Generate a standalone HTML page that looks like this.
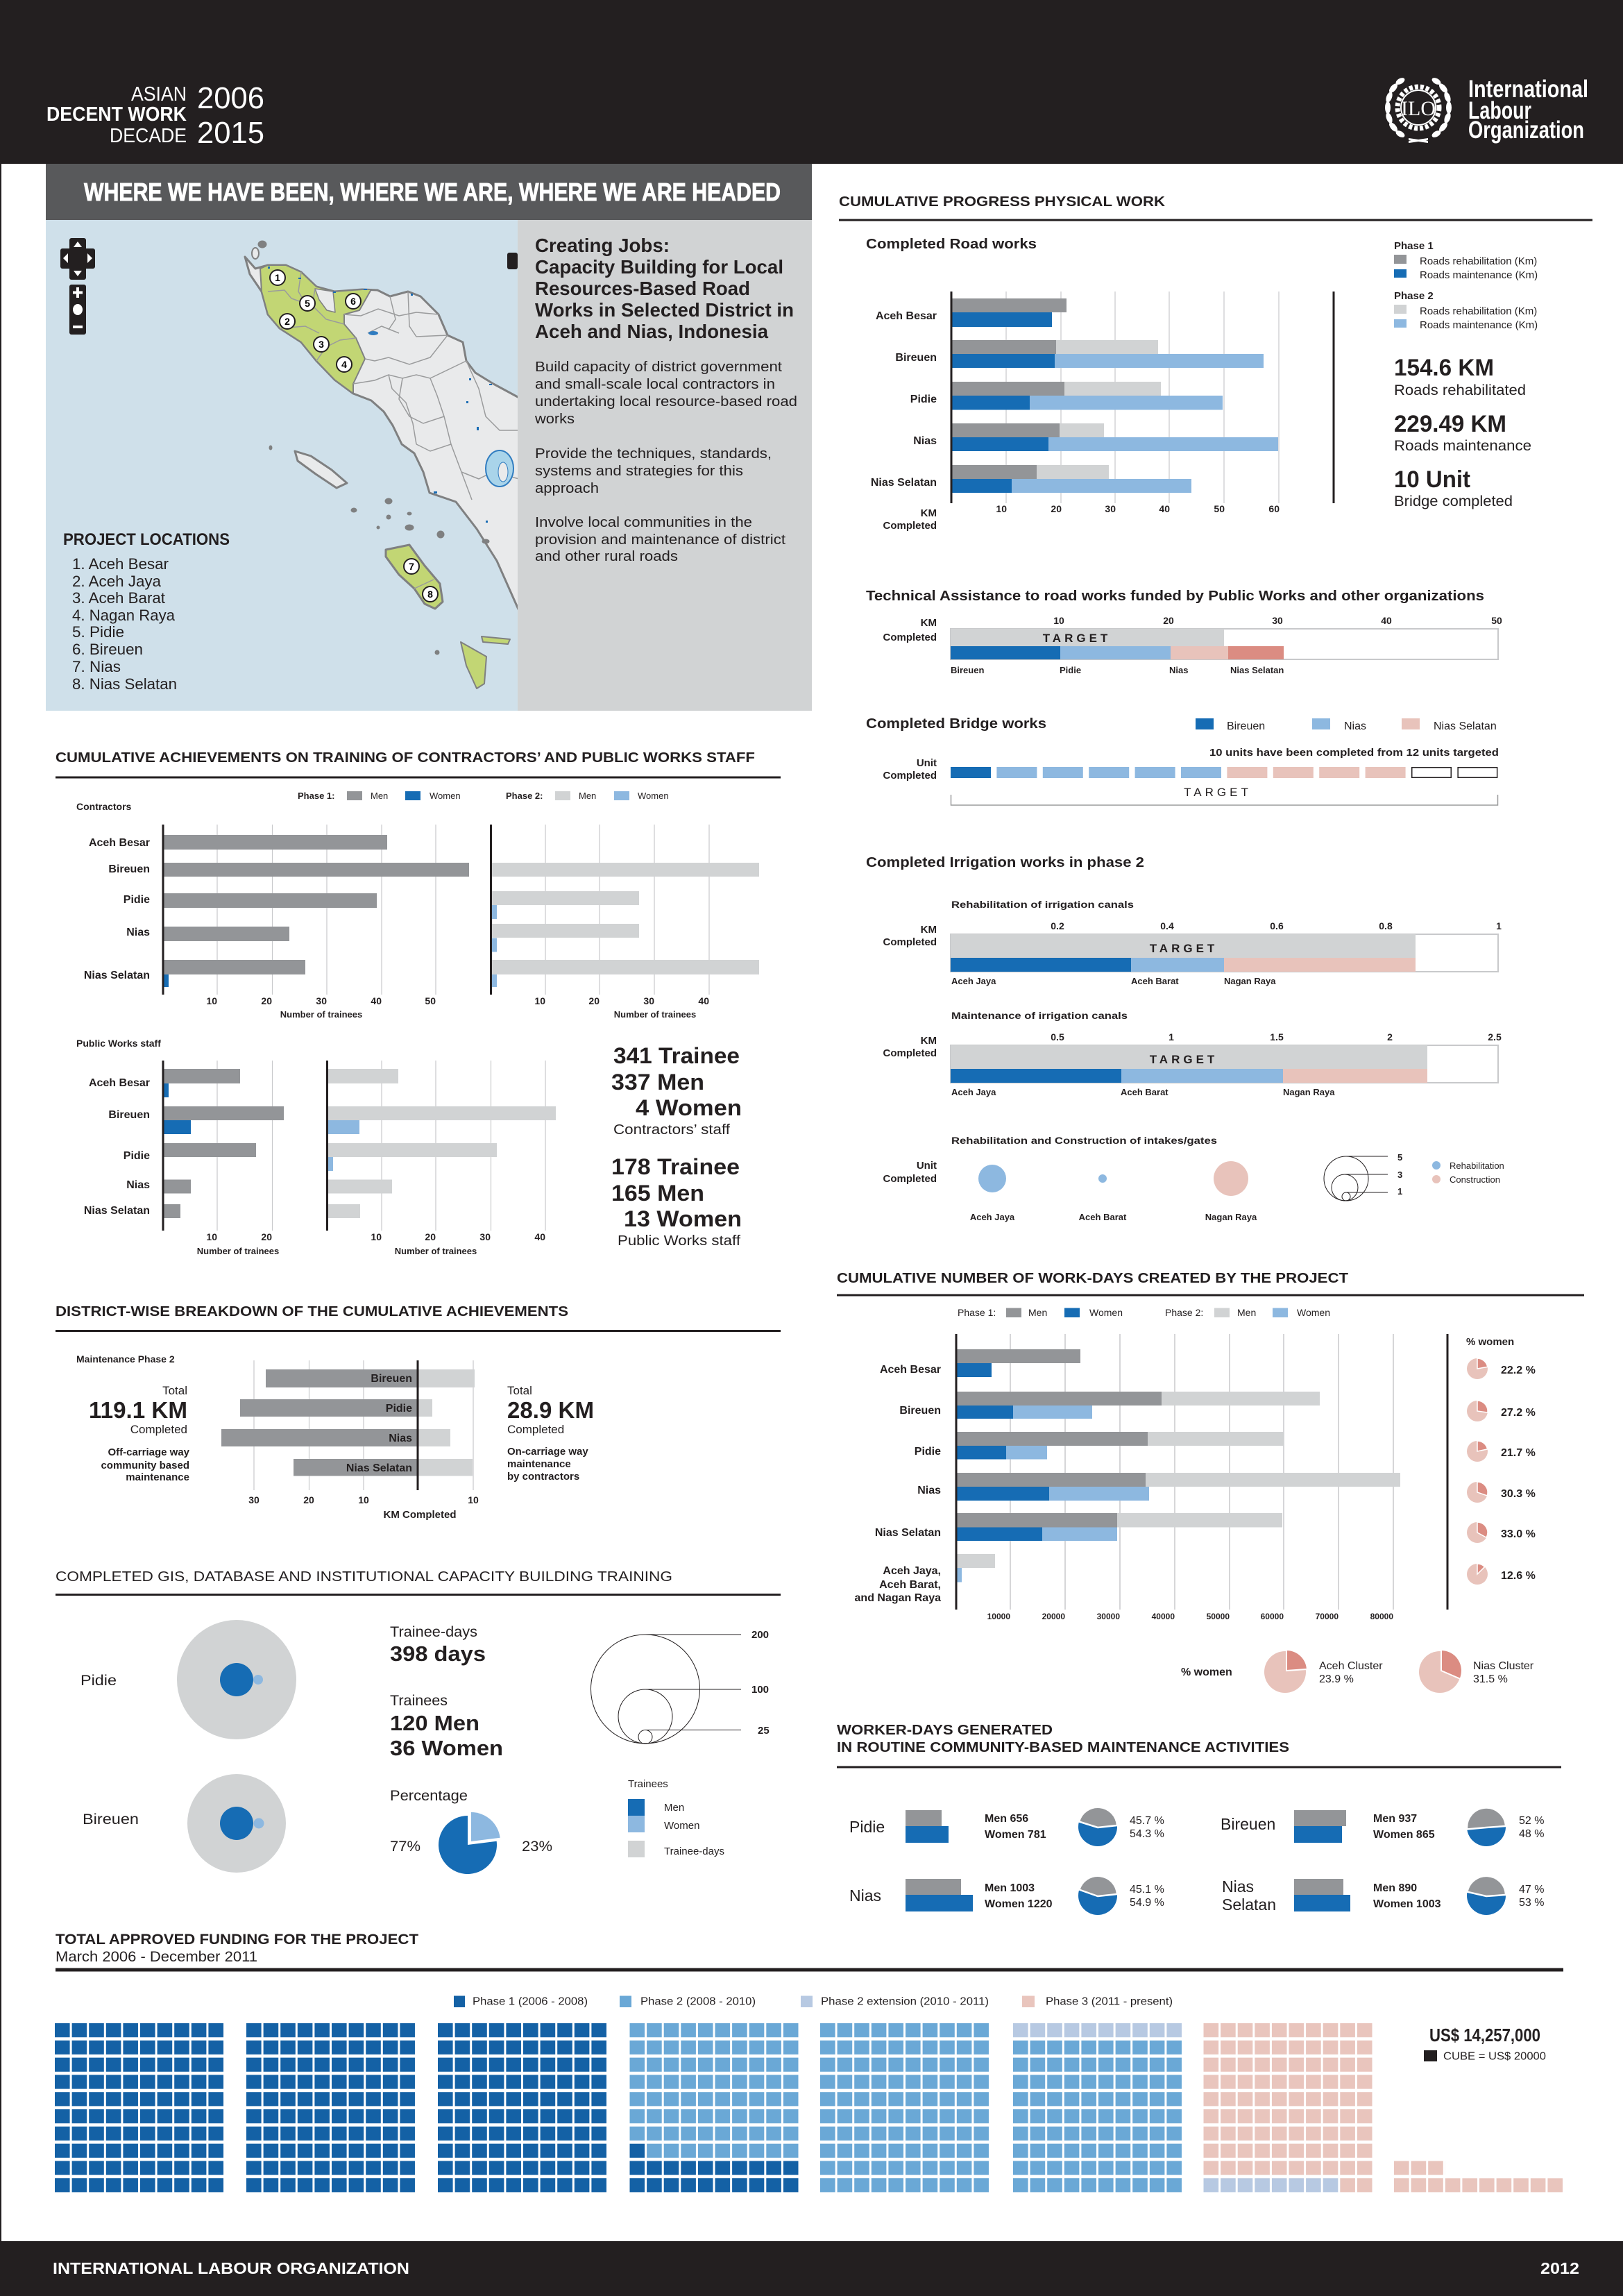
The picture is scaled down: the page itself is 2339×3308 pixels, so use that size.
<!DOCTYPE html>
<html><head><meta charset="utf-8"><title>ILO Aceh Nias Infographic</title>
<style>
html,body{margin:0;padding:0;background:#fff;}
svg{display:block;font-family:"Liberation Sans",Arial,sans-serif;}
</style></head><body>
<svg width="2339" height="3308" viewBox="0 0 2339 3308" xmlns="http://www.w3.org/2000/svg">
<defs>
<pattern id="p1" width="24.6" height="24.8" patternUnits="userSpaceOnUse"><rect width="21.6" height="20.2" fill="#1461a5"/></pattern>
<pattern id="p2" width="24.6" height="24.8" patternUnits="userSpaceOnUse"><rect width="21.6" height="20.2" fill="#6aa8d6"/></pattern>
<pattern id="p3" width="24.6" height="24.8" patternUnits="userSpaceOnUse"><rect width="21.6" height="20.2" fill="#b7c9e2"/></pattern>
<pattern id="p4" width="24.6" height="24.8" patternUnits="userSpaceOnUse"><rect width="21.6" height="20.2" fill="#e9c5bd"/></pattern>
</defs>
<rect width="2339" height="3308" fill="#fff"/>

<!-- HEADER -->
<rect x="0" y="0" width="2339" height="236" fill="#231f20"/>
<g fill="#fff">
<text x="189" y="145" font-size="29" textLength="80" lengthAdjust="spacingAndGlyphs">ASIAN</text>
<text x="67" y="174" font-size="29" font-weight="bold" textLength="202" lengthAdjust="spacingAndGlyphs">DECENT WORK</text>
<text x="158" y="205" font-size="29" textLength="111" lengthAdjust="spacingAndGlyphs">DECADE</text>
<text x="284" y="156" font-size="44" textLength="97" lengthAdjust="spacingAndGlyphs">2006</text>
<text x="284" y="206" font-size="44" textLength="97" lengthAdjust="spacingAndGlyphs">2015</text>
<text x="2116" y="140" font-size="35" font-weight="bold" textLength="173" lengthAdjust="spacingAndGlyphs">International</text>
<text x="2116" y="171" font-size="35" font-weight="bold" textLength="91" lengthAdjust="spacingAndGlyphs">Labour</text>
<text x="2116" y="199" font-size="35" font-weight="bold" textLength="167" lengthAdjust="spacingAndGlyphs">Organization</text>
</g>
<g transform="translate(2044,155)" fill="#fff">
<g>
<ellipse cx="-44" cy="0" rx="4" ry="9"/>
<ellipse cx="-42" cy="-15" rx="4" ry="8" transform="rotate(20 -42 -15)"/>
<ellipse cx="-36" cy="-28" rx="4" ry="8" transform="rotate(40 -36 -28)"/>
<ellipse cx="-26" cy="-38" rx="4" ry="7" transform="rotate(60 -26 -38)"/>
<ellipse cx="-42" cy="15" rx="4" ry="8" transform="rotate(-20 -42 15)"/>
<ellipse cx="-36" cy="28" rx="4" ry="8" transform="rotate(-40 -36 28)"/>
<ellipse cx="-26" cy="38" rx="4" ry="7" transform="rotate(-60 -26 38)"/>
<ellipse cx="44" cy="0" rx="4" ry="9"/>
<ellipse cx="42" cy="-15" rx="4" ry="8" transform="rotate(-20 42 -15)"/>
<ellipse cx="36" cy="-28" rx="4" ry="8" transform="rotate(-40 36 -28)"/>
<ellipse cx="26" cy="-38" rx="4" ry="7" transform="rotate(-60 26 -38)"/>
<ellipse cx="42" cy="15" rx="4" ry="8" transform="rotate(20 42 15)"/>
<ellipse cx="36" cy="28" rx="4" ry="8" transform="rotate(40 36 28)"/>
<ellipse cx="26" cy="38" rx="4" ry="7" transform="rotate(60 26 38)"/>
<path d="M-14,44 L14,48 L14,51 L-14,47 Z"/>
<path d="M14,44 L-14,48 L-14,51 L14,47 Z"/>
</g>
<circle r="30" fill="none" stroke="#fff" stroke-width="7" stroke-dasharray="5 3"/>
<circle r="25" fill="#231f20" stroke="#fff" stroke-width="2"/>
<text x="0" y="11" font-size="30" font-family="Liberation Serif" text-anchor="middle" fill="#fff">ILO</text>
</g>

<!-- left thin border -->
<rect x="0" y="236" width="2" height="2993" fill="#231f20"/>

<!-- TITLE BAR -->
<rect x="66" y="236" width="1104" height="81" fill="#58595b"/>
<text x="121" y="289" font-size="36" font-weight="bold" fill="#fff" stroke="#fff" stroke-width="0.9" textLength="1004" lengthAdjust="spacingAndGlyphs">WHERE WE HAVE BEEN, WHERE WE ARE, WHERE WE ARE HEADED</text>

<!-- MAP -->
<rect x="66" y="317" width="680" height="707" fill="#cfe0ea"/>
<g stroke="#7f8081" stroke-width="3" stroke-linejoin="round">
<polygon fill="#e9eaeb" points="353,370 368,387 386,382 412,382 434,392 456,413 482,420 522,417 544,418 562,427 588,420 606,427 632,453 645,483 667,493 672,520 685,537 711,553 748,573 748,880 716,808 687,762 657,723 619,710 610,680 597,653 579,640 566,613 553,593 535,577 509,567 482,547 456,520 434,493 403,473 386,453 377,420 360,395"/>
<polygon fill="#c2d674" stroke-width="2" points="375,387 386,382 412,382 434,392 456,413 482,420 522,417 535,417 518,447 496,453 496,467 513,487 526,517 509,553 509,567 482,547 456,520 434,493 403,473 386,453 377,420"/>
<polygon fill="#e9eaeb" stroke-width="1.5" points="454,416 480,420 483,450 471,447 460,432"/>
<polygon fill="#e9eaeb" points="425,650 448,657 478,677 500,696 485,703 455,683 429,664"/>
<polygon fill="#c2d674" points="556,792 590,785 612,815 634,841 638,867 627,877 612,870 597,848 575,828 556,802"/>
<polygon fill="#c2d674" stroke-width="2" points="664,925 701,946 698,985 687,992 672,959"/>
<polygon fill="#c2d674" stroke-width="2" points="694,917 735,921 732,928 696,925"/>
<ellipse cx="368" cy="365" rx="5" ry="8" fill="#e9eaeb" stroke-width="2"/>
<ellipse cx="378" cy="352" rx="6" ry="5" fill="#7f8081" stroke-width="1"/>
<ellipse cx="510" cy="735" rx="4" ry="3" fill="#7f8081" stroke-width="1"/>
<ellipse cx="560" cy="722" rx="5" ry="4" fill="#7f8081" stroke-width="1"/>
<ellipse cx="590" cy="760" rx="6" ry="4" fill="#7f8081" stroke-width="1"/>
<ellipse cx="635" cy="770" rx="5" ry="5" fill="#7f8081" stroke-width="1"/>
<ellipse cx="560" cy="745" rx="3" ry="3" fill="#7f8081" stroke-width="1"/>
<ellipse cx="390" cy="645" rx="2" ry="3" fill="#7f8081" stroke-width="1"/>
<ellipse cx="630" cy="940" rx="3" ry="3" fill="#7f8081" stroke-width="1"/>
<ellipse cx="700" cy="780" rx="5" ry="3" fill="#7f8081" stroke-width="1"/>
<ellipse cx="590" cy="740" rx="3" ry="2" fill="#7f8081" stroke-width="1"/>
<ellipse cx="545" cy="760" rx="2" ry="2" fill="#7f8081" stroke-width="1"/>
</g>
<g fill="none" stroke="#9a9b9c" stroke-width="1.5">
<polyline points="434,392 430,420 436,430 450,435"/>
<polyline points="386,420 410,418 420,430 440,437"/>
<polyline points="454,416 450,440 470,460 496,467"/>
<polyline points="496,453 520,455 545,445 575,455 600,450 632,453"/>
<polyline points="403,473 440,470 460,480"/>
<polyline points="456,520 470,500 490,490 513,487"/>
<polyline points="562,427 570,460 560,475"/>
<polyline points="588,420 590,470 600,485 645,483"/>
<polyline points="526,517 540,520 560,515 590,525 620,515 645,483"/>
<polyline points="509,553 540,548 560,540 580,545 600,540 620,545 672,520"/>
<polyline points="560,540 565,560 585,580 595,610 600,640"/>
<polyline points="620,545 630,570 640,600 650,640 665,680 680,720"/>
<polyline points="580,545 575,575 590,600 610,610 640,600"/>
<polyline points="600,640 620,650 650,640"/>
<polyline points="665,680 690,690 710,680 748,690"/>
<polyline points="672,520 690,560 700,600 720,620 748,620"/>
<polyline points="530,480 550,470 575,480"/>
<polyline points="597,848 625,835"/>
</g>
<g fill="#1a6cb4">
<rect x="386" y="384" width="3" height="3"/><rect x="430" y="400" width="4" height="2"/>
<rect x="480" y="420" width="4" height="2"/><rect x="524" y="416" width="5" height="2"/>
<rect x="592" y="423" width="3" height="3"/><rect x="676" y="545" width="3" height="3"/>
<rect x="705" y="553" width="4" height="2"/><rect x="672" y="578" width="3" height="3"/>
<rect x="687" y="615" width="3" height="5"/><rect x="700" y="750" width="3" height="3"/>
<rect x="625" y="708" width="5" height="3"/>
</g>
<ellipse cx="720" cy="675" rx="20" ry="26" fill="#a9d4ea" stroke="#2f7cc0" stroke-width="2"/>
<ellipse cx="725" cy="680" rx="7" ry="14" fill="#e9eaeb" stroke="#2f7cc0" stroke-width="1"/>
<ellipse cx="538" cy="480" rx="7" ry="3" fill="#2f7cc0"/>
<rect x="731" y="364" width="15" height="24" rx="3" fill="#231f20"/>
<g font-size="14" font-weight="bold" text-anchor="middle">
<circle cx="400" cy="400" r="11" fill="#fff" stroke="#231f20" stroke-width="2"/><text x="400" y="405">1</text>
<circle cx="443" cy="437" r="11" fill="#fff" stroke="#231f20" stroke-width="2"/><text x="443" y="442">5</text>
<circle cx="509" cy="434" r="11" fill="#fff" stroke="#231f20" stroke-width="2"/><text x="509" y="439">6</text>
<circle cx="414" cy="463" r="11" fill="#fff" stroke="#231f20" stroke-width="2"/><text x="414" y="468">2</text>
<circle cx="463" cy="496" r="11" fill="#fff" stroke="#231f20" stroke-width="2"/><text x="463" y="501">3</text>
<circle cx="496" cy="525" r="11" fill="#fff" stroke="#231f20" stroke-width="2"/><text x="496" y="530">4</text>
<circle cx="593" cy="816" r="11" fill="#fff" stroke="#231f20" stroke-width="2"/><text x="593" y="821">7</text>
<circle cx="620" cy="856" r="11" fill="#fff" stroke="#231f20" stroke-width="2"/><text x="620" y="861">8</text>
</g>
<!-- nav controls -->
<g fill="#231f20">
<rect x="100" y="343" width="24" height="60" rx="3"/>
<rect x="87" y="358" width="50" height="29" rx="3"/>
<rect x="100" y="410" width="24" height="72" rx="3"/>
</g>
<g fill="#fff">
<polygon points="112,348 106,356 118,356"/>
<polygon points="112,398 106,390 118,390"/>
<polygon points="91,372 98,365 98,379"/>
<polygon points="133,372 126,365 126,379"/>
<rect x="110" y="414" width="4" height="15"/><rect x="105" y="419.5" width="14" height="4"/>
<ellipse cx="112" cy="446" rx="7" ry="8"/>
<rect x="105" y="469" width="14" height="4"/>
</g>
<g fill="#231f20">
<text x="91" y="785" font-size="24" font-weight="bold" textLength="240" lengthAdjust="spacingAndGlyphs">PROJECT LOCATIONS</text>
<g font-size="22">
<text x="104" y="820" textLength="139" lengthAdjust="spacingAndGlyphs">1. Aceh Besar</text>
<text x="104" y="845" textLength="128" lengthAdjust="spacingAndGlyphs">2. Aceh Jaya</text>
<text x="104" y="869" textLength="134" lengthAdjust="spacingAndGlyphs">3. Aceh Barat</text>
<text x="104" y="894" textLength="148" lengthAdjust="spacingAndGlyphs">4. Nagan Raya</text>
<text x="104" y="918" textLength="75" lengthAdjust="spacingAndGlyphs">5. Pidie</text>
<text x="104" y="943" textLength="102" lengthAdjust="spacingAndGlyphs">6. Bireuen</text>
<text x="104" y="968" textLength="70" lengthAdjust="spacingAndGlyphs">7. Nias</text>
<text x="104" y="993" textLength="151" lengthAdjust="spacingAndGlyphs">8. Nias Selatan</text>
</g>
</g>

<!-- Right gray panel -->
<rect x="746" y="317" width="424" height="707" fill="#d1d3d4"/>
<g fill="#231f20">
<g font-size="28" font-weight="bold">
<text x="771" y="363" textLength="194" lengthAdjust="spacingAndGlyphs">Creating Jobs:</text>
<text x="771" y="394" textLength="358" lengthAdjust="spacingAndGlyphs">Capacity Building for Local</text>
<text x="771" y="425" textLength="310" lengthAdjust="spacingAndGlyphs">Resources-Based Road</text>
<text x="771" y="456" textLength="373" lengthAdjust="spacingAndGlyphs">Works in Selected District in</text>
<text x="771" y="487" textLength="336" lengthAdjust="spacingAndGlyphs">Aceh and Nias, Indonesia</text>
</g>
<g font-size="20">
<text x="771" y="535" textLength="356" lengthAdjust="spacingAndGlyphs">Build capacity of district government</text>
<text x="771" y="560" textLength="346" lengthAdjust="spacingAndGlyphs">and small-scale local contractors in</text>
<text x="771" y="585" textLength="378" lengthAdjust="spacingAndGlyphs">undertaking local resource-based road</text>
<text x="771" y="610" textLength="57" lengthAdjust="spacingAndGlyphs">works</text>
<text x="771" y="660" textLength="341" lengthAdjust="spacingAndGlyphs">Provide the techniques, standards,</text>
<text x="771" y="685" textLength="300" lengthAdjust="spacingAndGlyphs">systems and strategies for this</text>
<text x="771" y="710" textLength="92" lengthAdjust="spacingAndGlyphs">approach</text>
<text x="771" y="759" textLength="313" lengthAdjust="spacingAndGlyphs">Involve local communities in the</text>
<text x="771" y="784" textLength="361" lengthAdjust="spacingAndGlyphs">provision and maintenance of district</text>
<text x="771" y="808" textLength="206" lengthAdjust="spacingAndGlyphs">and other rural roads</text>
</g>
</g>

<g fill="#231f20">
<!-- ============ CUMULATIVE PROGRESS PHYSICAL WORK ============ -->
<text x="1209" y="297" font-size="20" font-weight="bold" textLength="470" lengthAdjust="spacingAndGlyphs">CUMULATIVE PROGRESS PHYSICAL WORK</text>
<rect x="1209" y="315.5" width="1086" height="3"/>
<text x="1248" y="358" font-size="20" font-weight="bold" textLength="246" lengthAdjust="spacingAndGlyphs">Completed Road works</text>

<g stroke="#c8c9cb" stroke-width="1.2">
<line x1="1450" y1="420" x2="1450" y2="725"/><line x1="1529" y1="420" x2="1529" y2="725"/>
<line x1="1607" y1="420" x2="1607" y2="725"/><line x1="1685" y1="420" x2="1685" y2="725"/>
<line x1="1764" y1="420" x2="1764" y2="725"/><line x1="1843" y1="420" x2="1843" y2="725"/>
</g>
<rect x="1372" y="430" width="165" height="20" fill="#939598"/>
<rect x="1372" y="450" width="144" height="21" fill="#166cb4"/>
<rect x="1372" y="490" width="297" height="20" fill="#d1d3d4"/>
<rect x="1372" y="490" width="150" height="20" fill="#939598"/>
<rect x="1372" y="510" width="449" height="20" fill="#8db8e0"/>
<rect x="1372" y="510" width="148" height="20" fill="#166cb4"/>
<rect x="1372" y="550" width="301" height="20" fill="#d1d3d4"/>
<rect x="1372" y="550" width="162" height="20" fill="#939598"/>
<rect x="1372" y="570" width="390" height="20.5" fill="#8db8e0"/>
<rect x="1372" y="570" width="112" height="20.5" fill="#166cb4"/>
<rect x="1372" y="610" width="219" height="20" fill="#d1d3d4"/>
<rect x="1372" y="610" width="155" height="20" fill="#939598"/>
<rect x="1372" y="630" width="470" height="20" fill="#8db8e0"/>
<rect x="1372" y="630" width="139" height="20" fill="#166cb4"/>
<rect x="1372" y="670" width="226" height="20" fill="#d1d3d4"/>
<rect x="1372" y="670" width="122" height="20" fill="#939598"/>
<rect x="1372" y="690" width="345" height="20" fill="#8db8e0"/>
<rect x="1372" y="690" width="86" height="20" fill="#166cb4"/>
<rect x="1369.5" y="420" width="3" height="305"/>
<g font-size="16" font-weight="bold" text-anchor="end">
<text x="1350" y="460">Aceh Besar</text>
<text x="1350" y="520">Bireuen</text>
<text x="1350" y="580">Pidie</text>
<text x="1350" y="640">Nias</text>
<text x="1350" y="700">Nias Selatan</text>
<text x="1350" y="744" font-size="15">KM</text>
<text x="1350" y="762" font-size="15">Completed</text>
</g>
<g font-size="14" font-weight="bold" text-anchor="end">
<text x="1451" y="738">10</text><text x="1530" y="738">20</text><text x="1608" y="738">30</text>
<text x="1686" y="738">40</text><text x="1765" y="738">50</text><text x="1844" y="738">60</text>
</g>
<rect x="1920.5" y="420" width="3" height="305"/>
<text x="2009" y="359" font-size="15" font-weight="bold">Phase 1</text>
<rect x="2009" y="367" width="18" height="13" fill="#939598"/>
<text x="2046" y="381" font-size="15">Roads rehabilitation (Km)</text>
<rect x="2009" y="388" width="18" height="12" fill="#166cb4"/>
<text x="2046" y="401" font-size="15">Roads maintenance (Km)</text>
<text x="2009" y="431" font-size="15" font-weight="bold">Phase 2</text>
<rect x="2009" y="439" width="18" height="13" fill="#d1d3d4"/>
<text x="2046" y="453" font-size="15">Roads rehabilitation (Km)</text>
<rect x="2009" y="460" width="18" height="12" fill="#8db8e0"/>
<text x="2046" y="473" font-size="15">Roads maintenance (Km)</text>
<text x="2009" y="541" font-size="34" font-weight="bold" textLength="144" lengthAdjust="spacingAndGlyphs">154.6 KM</text>
<text x="2009" y="569" font-size="21" textLength="190" lengthAdjust="spacingAndGlyphs">Roads rehabilitated</text>
<text x="2009" y="622" font-size="34" font-weight="bold" textLength="162" lengthAdjust="spacingAndGlyphs">229.49 KM</text>
<text x="2009" y="649" font-size="21" textLength="198" lengthAdjust="spacingAndGlyphs">Roads maintenance</text>
<text x="2009" y="702" font-size="34" font-weight="bold" textLength="110" lengthAdjust="spacingAndGlyphs">10 Unit</text>
<text x="2009" y="729" font-size="21" textLength="171" lengthAdjust="spacingAndGlyphs">Bridge completed</text>

<!-- Technical assistance -->
<text x="1248" y="865" font-size="20" font-weight="bold" textLength="891" lengthAdjust="spacingAndGlyphs">Technical Assistance to road works funded by Public Works and other organizations</text>
<g font-size="15" font-weight="bold" text-anchor="end">
<text x="1350" y="902">KM</text><text x="1350" y="923">Completed</text>
</g>
<g font-size="14" font-weight="bold" text-anchor="middle">
<text x="1526" y="899">10</text><text x="1684" y="899">20</text><text x="1841" y="899">30</text><text x="1998" y="899">40</text><text x="2157" y="899">50</text>
</g>
<rect x="1370" y="906" width="789" height="44" fill="#fff" stroke="#c8c9cb" stroke-width="2"/>
<rect x="1370" y="906" width="394" height="25" fill="#d1d3d4"/>
<text x="1552" y="925" font-size="17" font-weight="bold" text-anchor="middle" letter-spacing="5">TARGET</text>
<rect x="1370" y="931" width="158" height="19" fill="#166cb4"/>
<rect x="1528" y="931" width="159" height="19" fill="#8db8e0"/>
<rect x="1687" y="931" width="83" height="19" fill="#e8c3bb"/>
<rect x="1770" y="931" width="80" height="19" fill="#db8c82"/>
<g font-size="13" font-weight="bold">
<text x="1370" y="970">Bireuen</text><text x="1527" y="970">Pidie</text><text x="1685" y="970">Nias</text><text x="1773" y="970">Nias Selatan</text>
</g>

<!-- Bridge -->
<text x="1248" y="1049" font-size="20" font-weight="bold" textLength="260" lengthAdjust="spacingAndGlyphs">Completed Bridge works</text>
<rect x="1723" y="1035" width="26" height="16" fill="#166cb4"/><text x="1768" y="1051" font-size="16">Bireuen</text>
<rect x="1891" y="1035" width="26" height="16" fill="#8db8e0"/><text x="1937" y="1051" font-size="16">Nias</text>
<rect x="2020" y="1035" width="26" height="16" fill="#e8c3bb"/><text x="2066" y="1051" font-size="16">Nias Selatan</text>
<text x="1743" y="1089" font-size="15" font-weight="bold" textLength="417" lengthAdjust="spacingAndGlyphs">10 units have been completed from 12 units targeted</text>
<g font-size="15" font-weight="bold" text-anchor="end">
<text x="1350" y="1104">Unit</text><text x="1350" y="1122">Completed</text>
</g>
<rect x="1370" y="1105" width="58" height="16" fill="#166cb4"/>
<rect x="1436.4" y="1105" width="58" height="16" fill="#8db8e0"/>
<rect x="1502.8" y="1105" width="58" height="16" fill="#8db8e0"/>
<rect x="1569.2" y="1105" width="58" height="16" fill="#8db8e0"/>
<rect x="1635.6" y="1105" width="58" height="16" fill="#8db8e0"/>
<rect x="1702" y="1105" width="58" height="16" fill="#8db8e0"/>
<rect x="1768.4" y="1105" width="58" height="16" fill="#e8c3bb"/>
<rect x="1834.8" y="1105" width="58" height="16" fill="#e8c3bb"/>
<rect x="1901.2" y="1105" width="58" height="16" fill="#e8c3bb"/>
<rect x="1967.6" y="1105" width="58" height="16" fill="#e8c3bb"/>
<rect x="2034.75" y="1105.75" width="56.5" height="14.5" fill="#fff" stroke="#231f20" stroke-width="1.5"/>
<rect x="2101.15" y="1105.75" width="56.5" height="14.5" fill="#fff" stroke="#231f20" stroke-width="1.5"/>
<text x="1755" y="1147" font-size="17" text-anchor="middle" letter-spacing="5">TARGET</text>
<path d="M1370.5,1145 V1160 H2158.5 V1145" fill="none" stroke="#9a9b9c" stroke-width="1.5"/>

<!-- Irrigation -->
<text x="1248" y="1249" font-size="20" font-weight="bold" textLength="401" lengthAdjust="spacingAndGlyphs">Completed Irrigation works in phase 2</text>
<text x="1371" y="1308" font-size="14" font-weight="bold" textLength="263" lengthAdjust="spacingAndGlyphs">Rehabilitation of irrigation canals</text>
<g font-size="14" font-weight="bold" text-anchor="middle">
<text x="1524" y="1339">0.2</text><text x="1682" y="1339">0.4</text><text x="1840" y="1339">0.6</text><text x="1997" y="1339">0.8</text><text x="2160" y="1339">1</text>
</g>
<g font-size="15" font-weight="bold" text-anchor="end">
<text x="1350" y="1344">KM</text><text x="1350" y="1362">Completed</text>
</g>
<rect x="1370" y="1346" width="789" height="54" fill="#fff" stroke="#c8c9cb" stroke-width="2"/>
<rect x="1370" y="1346" width="670" height="34" fill="#d1d3d4"/>
<text x="1706" y="1372" font-size="17" font-weight="bold" text-anchor="middle" letter-spacing="5">TARGET</text>
<rect x="1370" y="1380" width="260" height="20" fill="#166cb4"/>
<rect x="1630" y="1380" width="134" height="20" fill="#8db8e0"/>
<rect x="1764" y="1380" width="276" height="20" fill="#e8c3bb"/>
<g font-size="13" font-weight="bold">
<text x="1371" y="1418">Aceh Jaya</text><text x="1630" y="1418">Aceh Barat</text><text x="1764" y="1418">Nagan Raya</text>
</g>

<text x="1371" y="1468" font-size="14" font-weight="bold" textLength="254" lengthAdjust="spacingAndGlyphs">Maintenance of irrigation canals</text>
<g font-size="14" font-weight="bold" text-anchor="middle">
<text x="1524" y="1499">0.5</text><text x="1688" y="1499">1</text><text x="1840" y="1499">1.5</text><text x="2003" y="1499">2</text><text x="2154" y="1499">2.5</text>
</g>
<g font-size="15" font-weight="bold" text-anchor="end">
<text x="1350" y="1504">KM</text><text x="1350" y="1522">Completed</text>
</g>
<rect x="1370" y="1506" width="789" height="54" fill="#fff" stroke="#c8c9cb" stroke-width="2"/>
<rect x="1370" y="1506" width="687" height="34" fill="#d1d3d4"/>
<text x="1706" y="1532" font-size="17" font-weight="bold" text-anchor="middle" letter-spacing="5">TARGET</text>
<rect x="1370" y="1540" width="246" height="20" fill="#166cb4"/>
<rect x="1616" y="1540" width="233" height="20" fill="#8db8e0"/>
<rect x="1849" y="1540" width="208" height="20" fill="#e8c3bb"/>
<g font-size="13" font-weight="bold">
<text x="1371" y="1578">Aceh Jaya</text><text x="1615" y="1578">Aceh Barat</text><text x="1849" y="1578">Nagan Raya</text>
</g>

<text x="1371" y="1648" font-size="14" font-weight="bold" textLength="383" lengthAdjust="spacingAndGlyphs">Rehabilitation and Construction of intakes/gates</text>
<g font-size="15" font-weight="bold" text-anchor="end">
<text x="1350" y="1684">Unit</text><text x="1350" y="1703">Completed</text>
</g>
<circle cx="1430" cy="1698" r="20" fill="#8db8e0"/>
<circle cx="1589" cy="1698" r="6" fill="#8db8e0"/>
<circle cx="1774" cy="1698" r="25" fill="#e8c3bb"/>
<g font-size="13" font-weight="bold" text-anchor="middle">
<text x="1430" y="1758">Aceh Jaya</text><text x="1589" y="1758">Aceh Barat</text><text x="1774" y="1758">Nagan Raya</text>
</g>
<g fill="none" stroke="#231f20" stroke-width="1">
<circle cx="1940" cy="1698" r="32"/><circle cx="1938" cy="1711" r="19"/><circle cx="1940" cy="1724" r="6"/>
<line x1="1940" y1="1666" x2="2000" y2="1666"/><line x1="1938" y1="1692" x2="2000" y2="1692"/><line x1="1940" y1="1718" x2="2000" y2="1718"/>
</g>
<g font-size="13" font-weight="bold">
<text x="2014" y="1672">5</text><text x="2014" y="1697">3</text><text x="2014" y="1721">1</text>
</g>
<circle cx="2070" cy="1679" r="6" fill="#8db8e0"/><text x="2089" y="1684" font-size="13">Rehabilitation</text>
<circle cx="2070" cy="1699" r="6" fill="#e8c3bb"/><text x="2089" y="1704" font-size="13">Construction</text>

<!-- ============ WORK-DAYS ============ -->
<text x="1206" y="1848" font-size="20" font-weight="bold" textLength="737" lengthAdjust="spacingAndGlyphs">CUMULATIVE NUMBER OF WORK-DAYS CREATED BY THE PROJECT</text>
<rect x="1206" y="1864.5" width="1077" height="3"/>
<g font-size="14">
<text x="1380" y="1896">Phase 1:</text>
<rect x="1450" y="1884.5" width="22" height="13.5" fill="#939598"/><text x="1482" y="1896">Men</text>
<rect x="1534" y="1884.5" width="22" height="13.5" fill="#166cb4"/><text x="1570" y="1896">Women</text>
<text x="1679" y="1896">Phase 2:</text>
<rect x="1750" y="1884.5" width="22" height="13.5" fill="#d1d3d4"/><text x="1783" y="1896">Men</text>
<rect x="1834" y="1884.5" width="22" height="13.5" fill="#8db8e0"/><text x="1869" y="1896">Women</text>
</g>
<g stroke="#c8c9cb" stroke-width="1.5">
<line x1="1456" y1="1922" x2="1456" y2="2319"/><line x1="1535" y1="1922" x2="1535" y2="2319"/>
<line x1="1614" y1="1922" x2="1614" y2="2319"/><line x1="1693" y1="1922" x2="1693" y2="2319"/>
<line x1="1772" y1="1922" x2="1772" y2="2319"/><line x1="1850" y1="1922" x2="1850" y2="2319"/>
<line x1="1929" y1="1922" x2="1929" y2="2319"/><line x1="2008" y1="1922" x2="2008" y2="2319"/>
</g>
<rect x="1379" y="1944" width="178" height="20" fill="#939598"/>
<rect x="1379" y="1964" width="50" height="20" fill="#166cb4"/>
<rect x="1379" y="2005" width="523" height="20" fill="#d1d3d4"/>
<rect x="1379" y="2005" width="295" height="20" fill="#939598"/>
<rect x="1379" y="2025" width="195" height="19" fill="#8db8e0"/>
<rect x="1379" y="2025" width="81" height="19" fill="#166cb4"/>
<rect x="1379" y="2063" width="471" height="20" fill="#d1d3d4"/>
<rect x="1379" y="2063" width="275" height="20" fill="#939598"/>
<rect x="1379" y="2083" width="130" height="19.5" fill="#8db8e0"/>
<rect x="1379" y="2083" width="71" height="19.5" fill="#166cb4"/>
<rect x="1379" y="2122" width="639" height="20" fill="#d1d3d4"/>
<rect x="1379" y="2122" width="272" height="20" fill="#939598"/>
<rect x="1379" y="2142" width="277" height="20" fill="#8db8e0"/>
<rect x="1379" y="2142" width="133" height="20" fill="#166cb4"/>
<rect x="1379" y="2180" width="469" height="20.5" fill="#d1d3d4"/>
<rect x="1379" y="2180" width="231" height="20.5" fill="#939598"/>
<rect x="1379" y="2200.5" width="231" height="19.5" fill="#8db8e0"/>
<rect x="1379" y="2200.5" width="123" height="19.5" fill="#166cb4"/>
<rect x="1379" y="2239" width="55" height="20" fill="#d1d3d4"/>
<rect x="1379" y="2259" width="7" height="20.5" fill="#8db8e0"/>
<rect x="1376.5" y="1922" width="3" height="397"/>
<g font-size="16" font-weight="bold" text-anchor="end">
<text x="1356" y="1978">Aceh Besar</text>
<text x="1356" y="2037">Bireuen</text>
<text x="1356" y="2096">Pidie</text>
<text x="1356" y="2152">Nias</text>
<text x="1356" y="2213">Nias Selatan</text>
<text x="1356" y="2268">Aceh Jaya,</text>
<text x="1356" y="2288">Aceh Barat,</text>
<text x="1356" y="2307">and Nagan Raya</text>
</g>
<g font-size="12" font-weight="bold" text-anchor="end">
<text x="1456" y="2333">10000</text><text x="1535" y="2333">20000</text><text x="1614" y="2333">30000</text><text x="1693" y="2333">40000</text>
<text x="1772" y="2333">50000</text><text x="1850" y="2333">60000</text><text x="1929" y="2333">70000</text><text x="2008" y="2333">80000</text>
</g>
<rect x="2084.5" y="1922" width="3" height="397"/>
<text x="2113" y="1938" font-size="15" font-weight="bold">% women</text>
<g stroke="#fff" stroke-width="1.5">
<circle cx="2129" cy="1972" r="15" fill="#e8c3bb" stroke="none"/>
<path d="M2129,1972 L2129,1957 A15,15 0 0 1 2143.77,1969.37 Z" fill="#db8c82"/>
<circle cx="2129" cy="2033" r="15" fill="#e8c3bb" stroke="none"/>
<path d="M2129,2033 L2129,2018 A15,15 0 0 1 2143.86,2035.06 Z" fill="#db8c82"/>
<circle cx="2129" cy="2091" r="15" fill="#e8c3bb" stroke="none"/>
<path d="M2129,2091 L2129,2076 A15,15 0 0 1 2143.68,2087.91 Z" fill="#db8c82"/>
<circle cx="2129" cy="2150" r="15" fill="#e8c3bb" stroke="none"/>
<path d="M2129,2150 L2129,2135 A15,15 0 0 1 2143.17,2154.91 Z" fill="#db8c82"/>
<circle cx="2129" cy="2208" r="15" fill="#e8c3bb" stroke="none"/>
<path d="M2129,2208 L2129,2193 A15,15 0 0 1 2142.14,2215.23 Z" fill="#db8c82"/>
<circle cx="2129" cy="2268" r="15" fill="#e8c3bb" stroke="none"/>
<path d="M2129,2268 L2129,2253 A15,15 0 0 1 2139.68,2257.47 Z" fill="#db8c82"/>
</g>
<g font-size="16" font-weight="bold">
<text x="2163" y="1979">22.2 %</text><text x="2163" y="2040">27.2 %</text><text x="2163" y="2098">21.7 %</text>
<text x="2163" y="2157">30.3 %</text><text x="2163" y="2215">33.0 %</text><text x="2163" y="2275">12.6 %</text>
</g>
<text x="1702" y="2414" font-size="16" font-weight="bold">% women</text>
<circle cx="1852" cy="2409" r="30" fill="#e8c3bb"/>
<path d="M1854,2407 L1854,2377 A30,30 0 0 1 1883.93,2404.91 Z" fill="#db8c82" stroke="#fff" stroke-width="2"/>
<text x="1901" y="2405" font-size="16">Aceh Cluster</text>
<text x="1901" y="2424" font-size="16">23.9 %</text>
<circle cx="2075" cy="2409" r="30" fill="#e8c3bb"/>
<path d="M2077,2407 L2077,2377 A30,30 0 0 1 2104.53,2418.91 Z" fill="#db8c82" stroke="#fff" stroke-width="2"/>
<text x="2123" y="2405" font-size="16">Nias Cluster</text>
<text x="2123" y="2424" font-size="16">31.5 %</text>

<!-- Worker-days -->
<text x="1206" y="2499" font-size="20" font-weight="bold" textLength="311" lengthAdjust="spacingAndGlyphs">WORKER-DAYS GENERATED</text>
<text x="1206" y="2524" font-size="20" font-weight="bold" textLength="652" lengthAdjust="spacingAndGlyphs">IN ROUTINE COMMUNITY-BASED MAINTENANCE ACTIVITIES</text>
<rect x="1206" y="2544.5" width="1044" height="3"/>

<text x="1224" y="2640" font-size="23">Pidie</text>
<rect x="1305" y="2608" width="52" height="23" fill="#939598"/>
<rect x="1305" y="2631" width="62" height="24" fill="#166cb4"/>
<text x="1419" y="2625" font-size="16" font-weight="bold">Men 656</text>
<text x="1419" y="2648" font-size="16" font-weight="bold">Women 781</text>
<circle cx="1582" cy="2632" r="28" fill="#166cb4"/>
<path d="M1582,2633 L1610,2630 A28,28 0 0 0 1555,2624.5 Z" fill="#939598" stroke="#fff" stroke-width="2.5"/>
<text x="1628" y="2628" font-size="16">45.7 %</text>
<text x="1628" y="2647" font-size="16">54.3 %</text>

<text x="1759" y="2636" font-size="23">Bireuen</text>
<rect x="1865" y="2608" width="75" height="23" fill="#939598"/>
<rect x="1865" y="2631" width="69" height="24" fill="#166cb4"/>
<text x="1979" y="2625" font-size="16" font-weight="bold">Men 937</text>
<text x="1979" y="2648" font-size="16" font-weight="bold">Women 865</text>
<circle cx="2142" cy="2632" r="28" fill="#166cb4"/>
<path d="M2142,2633 L2170,2631 A28,28 0 1 0 2114.2,2635.5 Z" fill="#939598" stroke="#fff" stroke-width="2.5"/>
<text x="2189" y="2628" font-size="16">52 %</text>
<text x="2189" y="2647" font-size="16">48 %</text>

<text x="1224" y="2739" font-size="23">Nias</text>
<rect x="1305" y="2707" width="80" height="23" fill="#939598"/>
<rect x="1305" y="2730" width="97" height="24" fill="#166cb4"/>
<text x="1419" y="2725" font-size="16" font-weight="bold">Men 1003</text>
<text x="1419" y="2748" font-size="16" font-weight="bold">Women 1220</text>
<circle cx="1582" cy="2731" r="28" fill="#166cb4"/>
<path d="M1582,2732 L1610,2729 A28,28 0 0 0 1555.3,2722.5 Z" fill="#939598" stroke="#fff" stroke-width="2.5"/>
<text x="1628" y="2727" font-size="16">45.1 %</text>
<text x="1628" y="2746" font-size="16">54.9 %</text>

<text x="1761" y="2726" font-size="23">Nias</text>
<text x="1761" y="2752" font-size="23">Selatan</text>
<rect x="1865" y="2707" width="71" height="23" fill="#939598"/>
<rect x="1865" y="2730" width="81" height="24" fill="#166cb4"/>
<text x="1979" y="2725" font-size="16" font-weight="bold">Men 890</text>
<text x="1979" y="2748" font-size="16" font-weight="bold">Women 1003</text>
<circle cx="2142" cy="2731" r="28" fill="#166cb4"/>
<path d="M2142,2732 L2170,2730 A28,28 0 0 0 2114.5,2725.7 Z" fill="#939598" stroke="#fff" stroke-width="2.5"/>
<text x="2189" y="2727" font-size="16">47 %</text>
<text x="2189" y="2746" font-size="16">53 %</text>

<!-- ============ TRAINING ============ -->
<text x="80" y="1098" font-size="20" font-weight="bold" textLength="1008" lengthAdjust="spacingAndGlyphs">CUMULATIVE ACHIEVEMENTS ON TRAINING OF CONTRACTORS’ AND PUBLIC WORKS STAFF</text>
<rect x="80" y="1118.5" width="1045" height="3"/>
<g font-size="13">
<text x="429" y="1151" font-weight="bold">Phase 1:</text>
<rect x="500" y="1140" width="22" height="13" fill="#939598"/><text x="534" y="1151">Men</text>
<rect x="584" y="1140" width="22" height="13" fill="#166cb4"/><text x="619" y="1151">Women</text>
<text x="729" y="1151" font-weight="bold">Phase 2:</text>
<rect x="800" y="1140" width="22" height="13" fill="#d1d3d4"/><text x="834" y="1151">Men</text>
<rect x="885" y="1140" width="22" height="13" fill="#8db8e0"/><text x="919" y="1151">Women</text>
</g>
<text x="110" y="1167" font-size="14" font-weight="bold">Contractors</text>
<g stroke="#c8c9cb" stroke-width="1.2">
<line x1="313" y1="1188" x2="313" y2="1433"/><line x1="392.5" y1="1188" x2="392.5" y2="1433"/>
<line x1="471" y1="1188" x2="471" y2="1433"/><line x1="550" y1="1188" x2="550" y2="1433"/>
<line x1="628" y1="1188" x2="628" y2="1433"/>
<line x1="786" y1="1188" x2="786" y2="1433"/><line x1="864" y1="1188" x2="864" y2="1433"/>
<line x1="943" y1="1188" x2="943" y2="1433"/><line x1="1022" y1="1188" x2="1022" y2="1433"/>
</g>
<rect x="236" y="1203" width="322" height="21" fill="#939598"/>
<rect x="236" y="1243" width="440" height="20" fill="#939598"/>
<rect x="236" y="1287" width="307" height="21" fill="#939598"/>
<rect x="236" y="1335" width="181" height="21" fill="#939598"/>
<rect x="236" y="1383" width="204" height="21" fill="#939598"/>
<rect x="236" y="1404" width="7" height="18" fill="#166cb4"/>
<rect x="233.5" y="1188" width="3" height="245"/>
<rect x="709" y="1243" width="385" height="20" fill="#d1d3d4"/>
<rect x="709" y="1284" width="212" height="20" fill="#d1d3d4"/>
<rect x="709" y="1304" width="7" height="20" fill="#8db8e0"/>
<rect x="709" y="1331" width="212" height="20" fill="#d1d3d4"/>
<rect x="709" y="1351.5" width="7" height="20" fill="#8db8e0"/>
<rect x="709" y="1383" width="385" height="21" fill="#d1d3d4"/>
<rect x="709" y="1404" width="7" height="18" fill="#8db8e0"/>
<rect x="706" y="1188" width="3" height="245"/>
<g font-size="16" font-weight="bold" text-anchor="end">
<text x="216" y="1219">Aceh Besar</text>
<text x="216" y="1257">Bireuen</text>
<text x="216" y="1301">Pidie</text>
<text x="216" y="1348">Nias</text>
<text x="216" y="1410">Nias Selatan</text>
</g>
<g font-size="14" font-weight="bold" text-anchor="end">
<text x="313" y="1447">10</text><text x="392" y="1447">20</text><text x="471" y="1447">30</text><text x="550" y="1447">40</text><text x="628" y="1447">50</text>
<text x="786" y="1447">10</text><text x="864" y="1447">20</text><text x="943" y="1447">30</text><text x="1022" y="1447">40</text>
</g>
<g font-size="13" font-weight="bold" text-anchor="middle">
<text x="463" y="1466">Number of trainees</text>
<text x="944" y="1466">Number of trainees</text>
</g>

<text x="110" y="1508" font-size="14" font-weight="bold">Public Works staff</text>
<g stroke="#c8c9cb" stroke-width="1.2">
<line x1="313" y1="1528" x2="313" y2="1773"/><line x1="392.5" y1="1528" x2="392.5" y2="1773"/>
<line x1="550" y1="1528" x2="550" y2="1773"/><line x1="628" y1="1528" x2="628" y2="1773"/>
<line x1="707.5" y1="1528" x2="707.5" y2="1773"/><line x1="786" y1="1528" x2="786" y2="1773"/>
</g>
<rect x="236" y="1540" width="110" height="21" fill="#939598"/>
<rect x="236" y="1561" width="7" height="20" fill="#166cb4"/>
<rect x="236" y="1594" width="173" height="20" fill="#939598"/>
<rect x="236" y="1614" width="39" height="20" fill="#166cb4"/>
<rect x="236" y="1647" width="133" height="20" fill="#939598"/>
<rect x="236" y="1699.5" width="39" height="20" fill="#939598"/>
<rect x="236" y="1735" width="24" height="20" fill="#939598"/>
<rect x="233.5" y="1528" width="3" height="245"/>
<rect x="473" y="1540" width="101" height="21" fill="#d1d3d4"/>
<rect x="473" y="1594" width="328" height="20" fill="#d1d3d4"/>
<rect x="473" y="1614" width="45" height="20" fill="#8db8e0"/>
<rect x="473" y="1647" width="243" height="20" fill="#d1d3d4"/>
<rect x="473" y="1667" width="7" height="20" fill="#8db8e0"/>
<rect x="473" y="1699.5" width="92" height="20" fill="#d1d3d4"/>
<rect x="473" y="1735" width="46" height="20" fill="#d1d3d4"/>
<rect x="470" y="1528" width="3" height="245"/>
<g font-size="16" font-weight="bold" text-anchor="end">
<text x="216" y="1565">Aceh Besar</text>
<text x="216" y="1611">Bireuen</text>
<text x="216" y="1670">Pidie</text>
<text x="216" y="1712">Nias</text>
<text x="216" y="1749">Nias Selatan</text>
</g>
<g font-size="14" font-weight="bold" text-anchor="end">
<text x="313" y="1787">10</text><text x="392" y="1787">20</text>
<text x="550" y="1787">10</text><text x="628" y="1787">20</text><text x="707" y="1787">30</text><text x="786" y="1787">40</text>
</g>
<g font-size="13" font-weight="bold" text-anchor="middle">
<text x="343" y="1807">Number of trainees</text>
<text x="628" y="1807">Number of trainees</text>
</g>
<g font-size="32" font-weight="bold">
<text x="884" y="1532" textLength="182" lengthAdjust="spacingAndGlyphs">341 Trainee</text>
<text x="881" y="1570" textLength="134" lengthAdjust="spacingAndGlyphs">337 Men</text>
<text x="916" y="1607" textLength="153" lengthAdjust="spacingAndGlyphs">4 Women</text>
<text x="881" y="1692" textLength="185" lengthAdjust="spacingAndGlyphs">178 Trainee</text>
<text x="881" y="1730" textLength="134" lengthAdjust="spacingAndGlyphs">165 Men</text>
<text x="899" y="1767" textLength="170" lengthAdjust="spacingAndGlyphs">13 Women</text>
</g>
<text x="884" y="1634" font-size="20" textLength="168" lengthAdjust="spacingAndGlyphs">Contractors’ staff</text>
<text x="890" y="1794" font-size="20" textLength="177" lengthAdjust="spacingAndGlyphs">Public Works staff</text>

<!-- ============ DISTRICT-WISE ============ -->
<text x="80" y="1896" font-size="20" font-weight="bold" textLength="739" lengthAdjust="spacingAndGlyphs">DISTRICT-WISE BREAKDOWN OF THE CUMULATIVE ACHIEVEMENTS</text>
<rect x="80" y="1916" width="1045" height="3"/>
<text x="110" y="1963" font-size="14" font-weight="bold">Maintenance Phase 2</text>
<text x="270" y="2009" font-size="17" text-anchor="end">Total</text>
<text x="128" y="2043" font-size="33" font-weight="bold" textLength="142" lengthAdjust="spacingAndGlyphs">119.1 KM</text>
<text x="270" y="2065" font-size="17" text-anchor="end">Completed</text>
<g font-size="15" font-weight="bold" text-anchor="end">
<text x="273" y="2097">Off-carriage way</text>
<text x="273" y="2116">community based</text>
<text x="273" y="2133">maintenance</text>
</g>
<g stroke="#c8c9cb" stroke-width="1.2">
<line x1="366" y1="1960" x2="366" y2="2147"/><line x1="445.5" y1="1960" x2="445.5" y2="2147"/>
<line x1="524" y1="1960" x2="524" y2="2147"/><line x1="682" y1="1960" x2="682" y2="2147"/>
</g>
<rect x="383" y="1973" width="219" height="26" fill="#939598"/>
<rect x="602" y="1973" width="82" height="26" fill="#d1d3d4"/>
<rect x="346" y="2016" width="256" height="25" fill="#939598"/>
<rect x="602" y="2016" width="21" height="25" fill="#d1d3d4"/>
<rect x="319" y="2059" width="283" height="25" fill="#939598"/>
<rect x="602" y="2059" width="47" height="25" fill="#d1d3d4"/>
<rect x="423" y="2102" width="179" height="24.5" fill="#939598"/>
<rect x="602" y="2102" width="79" height="24.5" fill="#d1d3d4"/>
<rect x="600.5" y="1960" width="3" height="187"/>
<g font-size="16" font-weight="bold" text-anchor="end">
<text x="594" y="1991">Bireuen</text>
<text x="594" y="2034">Pidie</text>
<text x="594" y="2077">Nias</text>
<text x="594" y="2120">Nias Selatan</text>
</g>
<g font-size="14" font-weight="bold" text-anchor="middle">
<text x="366" y="2166">30</text><text x="445" y="2166">20</text><text x="524" y="2166">10</text><text x="682" y="2166">10</text>
</g>
<text x="605" y="2187" font-size="15" font-weight="bold" text-anchor="middle">KM Completed</text>
<text x="731" y="2009" font-size="17">Total</text>
<text x="731" y="2043" font-size="33" font-weight="bold" textLength="125" lengthAdjust="spacingAndGlyphs">28.9 KM</text>
<text x="731" y="2065" font-size="17">Completed</text>
<g font-size="15" font-weight="bold">
<text x="731" y="2096">On-carriage way</text>
<text x="731" y="2114">maintenance</text>
<text x="731" y="2132">by contractors</text>
</g>

<!-- ============ GIS ============ -->
<text x="80" y="2278" font-size="20" textLength="889" lengthAdjust="spacingAndGlyphs">COMPLETED GIS, DATABASE AND INSTITUTIONAL CAPACITY BUILDING TRAINING</text>
<rect x="80" y="2296" width="1045" height="3"/>
<text x="116" y="2428" font-size="21" textLength="52" lengthAdjust="spacingAndGlyphs">Pidie</text>
<circle cx="341" cy="2420" r="86" fill="#d1d3d4"/>
<circle cx="341" cy="2420" r="24" fill="#166cb4"/>
<circle cx="372" cy="2420" r="7" fill="#8db8e0"/>
<text x="119" y="2628" font-size="21" textLength="81" lengthAdjust="spacingAndGlyphs">Bireuen</text>
<circle cx="341" cy="2627" r="71" fill="#d1d3d4"/>
<circle cx="341" cy="2627" r="24" fill="#166cb4"/>
<circle cx="373" cy="2627" r="7.5" fill="#8db8e0"/>

<text x="562" y="2358" font-size="21" textLength="126" lengthAdjust="spacingAndGlyphs">Trainee-days</text>
<text x="562" y="2393" font-size="31" font-weight="bold" textLength="138" lengthAdjust="spacingAndGlyphs">398 days</text>
<text x="562" y="2457" font-size="21" textLength="83" lengthAdjust="spacingAndGlyphs">Trainees</text>
<text x="562" y="2493" font-size="31" font-weight="bold" textLength="129" lengthAdjust="spacingAndGlyphs">120 Men</text>
<text x="562" y="2529" font-size="31" font-weight="bold" textLength="163" lengthAdjust="spacingAndGlyphs">36 Women</text>
<text x="562" y="2594" font-size="21" textLength="112" lengthAdjust="spacingAndGlyphs">Percentage</text>
<path d="M674,2658 L715.67,2652.74 A42,42 0 1 1 674,2616 Z" fill="#166cb4"/>
<path d="M679,2653 L679,2611 A42,42 0 0 1 720.67,2647.74 Z" fill="#8db8e0"/>
<text x="562" y="2667" font-size="21" textLength="44" lengthAdjust="spacingAndGlyphs">77%</text>
<text x="752" y="2667" font-size="21" textLength="44" lengthAdjust="spacingAndGlyphs">23%</text>

<g fill="none" stroke="#231f20" stroke-width="1">
<circle cx="930" cy="2433.5" r="78.5"/>
<circle cx="930" cy="2473" r="39"/>
<circle cx="930" cy="2502.5" r="10"/>
<line x1="930" y1="2355" x2="1068" y2="2355"/>
<line x1="930" y1="2434" x2="1068" y2="2434"/>
<line x1="930" y1="2492.5" x2="1068" y2="2492.5"/>
</g>
<g font-size="15" font-weight="bold">
<text x="1083" y="2360">200</text><text x="1083" y="2439">100</text><text x="1092" y="2498">25</text>
</g>
<text x="905" y="2575" font-size="15">Trainees</text>
<rect x="905" y="2592" width="24" height="24" fill="#166cb4"/>
<rect x="905" y="2616" width="24" height="24" fill="#8db8e0"/>
<rect x="905" y="2652" width="24" height="24" fill="#d1d3d4"/>
<text x="957" y="2609" font-size="15">Men</text>
<text x="957" y="2635" font-size="15">Women</text>
<text x="957" y="2672" font-size="15">Trainee-days</text>

<!-- ============ FUNDING ============ -->
<text x="80" y="2801" font-size="21" font-weight="bold" textLength="523" lengthAdjust="spacingAndGlyphs">TOTAL APPROVED FUNDING FOR THE PROJECT</text>
<text x="80" y="2826" font-size="21" textLength="291" lengthAdjust="spacingAndGlyphs">March 2006 - December 2011</text>
<rect x="80" y="2835.5" width="2173" height="5"/>
<rect x="654" y="2875.5" width="16" height="16.5" fill="#1461a5"/>
<text x="681" y="2888.5" font-size="16" textLength="166" lengthAdjust="spacingAndGlyphs">Phase 1 (2006 - 2008)</text>
<rect x="893" y="2875.5" width="17" height="16.5" fill="#6aa8d6"/>
<text x="923" y="2888.5" font-size="16" textLength="166" lengthAdjust="spacingAndGlyphs">Phase 2 (2008 - 2010)</text>
<rect x="1154" y="2875.5" width="17" height="16.5" fill="#b7c9e2"/>
<text x="1183" y="2888.5" font-size="16" textLength="242" lengthAdjust="spacingAndGlyphs">Phase 2 extension (2010 - 2011)</text>
<rect x="1473" y="2875.5" width="18" height="16.5" fill="#e9c5bd"/>
<text x="1507" y="2888.5" font-size="16" textLength="183" lengthAdjust="spacingAndGlyphs">Phase 3 (2011 - present)</text>

<g transform="translate(79,2915)"><rect width="246" height="248" fill="url(#p1)"/></g>
<g transform="translate(355,2915)"><rect width="246" height="248" fill="url(#p1)"/></g>
<g transform="translate(631,2915)"><rect width="246" height="248" fill="url(#p1)"/></g>
<g transform="translate(907.5,2915)">
<rect x="0" y="0" width="246" height="173.6" fill="url(#p2)"/>
<rect x="0" y="173.6" width="24.6" height="24.8" fill="url(#p1)"/>
<rect x="24.6" y="173.6" width="221.4" height="24.8" fill="url(#p2)"/>
<rect x="0" y="198.4" width="246" height="49.6" fill="url(#p1)"/>
</g>
<g transform="translate(1182,2915)"><rect width="246" height="248" fill="url(#p2)"/></g>
<g transform="translate(1460,2915)">
<rect x="0" y="0" width="246" height="24.8" fill="url(#p3)"/>
<rect x="0" y="24.8" width="246" height="223.2" fill="url(#p2)"/>
</g>
<g transform="translate(1734.5,2915)">
<rect x="0" y="0" width="246" height="223.2" fill="url(#p4)"/>
<rect x="0" y="223.2" width="196.8" height="24.8" fill="url(#p3)"/>
<rect x="196.8" y="223.2" width="49.2" height="24.8" fill="url(#p4)"/>
</g>
<g transform="translate(2009,2915)">
<rect x="0" y="198.4" width="73.8" height="24.8" fill="url(#p4)"/>
<rect x="0" y="223.2" width="246" height="24.8" fill="url(#p4)"/>
</g>
<text x="2060" y="2941" font-size="26" font-weight="bold" textLength="160" lengthAdjust="spacingAndGlyphs">US$ 14,257,000</text>
<rect x="2052" y="2954" width="19" height="16"/>
<text x="2080" y="2967.5" font-size="16" textLength="148" lengthAdjust="spacingAndGlyphs">CUBE = US$ 20000</text>
</g>

<!-- FOOTER -->
<rect x="0" y="3229" width="2339" height="79" fill="#231f20"/>
<text x="76" y="3276" font-size="23" font-weight="bold" fill="#fff" textLength="514" lengthAdjust="spacingAndGlyphs">INTERNATIONAL LABOUR ORGANIZATION</text>
<text x="2220" y="3276" font-size="23" font-weight="bold" fill="#fff" textLength="56" lengthAdjust="spacingAndGlyphs">2012</text>
</svg>
</body></html>
